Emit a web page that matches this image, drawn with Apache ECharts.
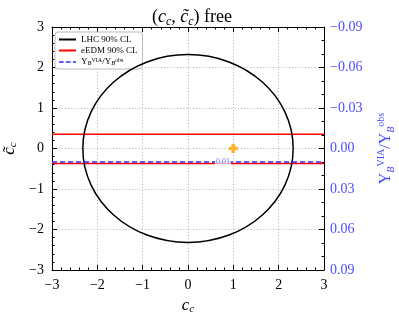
<!DOCTYPE html>
<html>
<head>
<meta charset="utf-8">
<script src="https://cdn.jsdelivr.net/npm/echarts@6/dist/echarts.min.js"></script>
<style>html,body{margin:0;padding:0;background:#fff}#c{width:399px;height:317px}</style>
</head>
<body>
<div id="c"></div>
<script>
// ---- data ----
var xTicks = [-3, -2, -1, 0, 1, 2, 3];
var yTicks = [-3, -2, -1, 0, 1, 2, 3];
var rightTicks = [-0.09, -0.06, -0.03, 0.00, 0.03, 0.06, 0.09];
// LHC 90% CL contour: [centre c, centre c~, radius c, radius c~]
var lhcContour = [[0, 0, 2.32, 2.32]];
// eEDM 90% CL bounds on c~
var eedmBounds = [0.35, -0.37];
// Y_B ratio contour level (right axis) and its label position
var ybLevel = 0.01;
var ybLabelX = 0.77;
// best-fit / SM point
var smPoint = [[1, 0]];

var FONT = 'Liberation Serif';
var BLUE = '#2b2bff';
var LBLUE = '#4d4dff';
function fmtMinus(v, d) {
  var s = (Math.abs(v) < 1e-9 ? 0 : v).toFixed(d);
  return s.replace('-', '\u2212');
}

var chart = echarts.init(document.getElementById('c'), null, {renderer: 'canvas'});

var axisCommon = {
  min: xTicks[0], max: xTicks[xTicks.length - 1], interval: 1,
  axisLine: {show: true, onZero: false, lineStyle: {color: '#000', width: 1}},
  axisTick: {show: true, inside: true, length: 5, lineStyle: {color: '#000'}},
  minorTick: {show: true, splitNumber: 5, length: 2.5, lineStyle: {color: '#000'}},
  axisLabel: {fontFamily: FONT, fontSize: 14, color: '#000', formatter: function (v) { return fmtMinus(v, 0); }},
  splitLine: {show: true, lineStyle: {color: '#aaa', width: 0.8, type: [1.2, 2]}}
};

var eedmLines = eedmBounds.map(function (b) { return [[-3, b], [3, b]]; });

var SOLID = 'rect';
var DASHED = 'path://M0,0H6V2H0Z M9,0H15V2H9Z M18,0H22V2H18Z';

var option = {
  animation: false,
  backgroundColor: '#fff',
  title: {
    text: '{n|(}{i|c}{s|c}{n|, }{i|c\u0303}{s|c}{n|) free}',
    left: 187, top: 1, textAlign: 'center',
    textStyle: {
      fontWeight: 'normal',
      rich: {
        n: {fontFamily: FONT, fontSize: 18, fontWeight: 'normal', lineHeight: 22, color: '#000', verticalAlign: 'middle'},
        i: {fontFamily: FONT, fontSize: 18, fontWeight: 'normal', fontStyle: 'italic', lineHeight: 22, color: '#000', verticalAlign: 'middle'},
        s: {fontFamily: FONT, fontSize: 12, fontWeight: 'normal', fontStyle: 'italic', lineHeight: 12, color: '#000', verticalAlign: 'bottom'}
      }
    }
  },
  grid: {left: 52, right: 75, top: 27, bottom: 47, containLabel: false, outerBoundsMode: 'none'},
  legend: {
    orient: 'vertical', left: 55, top: 32,
    data: [{name: 'LHC 90% CL', icon: SOLID}, {name: 'eEDM 90% CL', icon: SOLID}, {name: 'YB', icon: DASHED}],
    itemWidth: 17, itemHeight: 2, itemGap: 2,
    padding: [3, 5, 2, 4],
    backgroundColor: '#fff', borderColor: '#bbb', borderWidth: 1, borderRadius: 3,
    formatter: function (name) {
      if (name === 'YB') return '{t|Y}{s|B}{p|VIA}{t|/Y}{s|B}{p|obs}';
      return '{t|' + name + '}';
    },
    textStyle: {
      rich: {
        t: {fontFamily: FONT, fontSize: 9, lineHeight: 10, color: '#000', verticalAlign: 'middle'},
        s: {fontFamily: FONT, fontSize: 6.5, fontStyle: 'italic', lineHeight: 6, color: '#000', verticalAlign: 'bottom'},
        p: {fontFamily: FONT, fontSize: 6, lineHeight: 6, color: '#000', verticalAlign: 'top'}
      }
    }
  },
  xAxis: [
    Object.assign({}, axisCommon, {
      type: 'value', position: 'bottom',
      name: '{i|c}{s|c}', nameLocation: 'middle', nameGap: 24,
      nameTextStyle: {rich: {
        i: {fontFamily: FONT, fontSize: 17, fontStyle: 'italic', lineHeight: 18, color: '#000', verticalAlign: 'middle'},
        s: {fontFamily: FONT, fontSize: 11, fontStyle: 'italic', lineHeight: 10, color: '#000', verticalAlign: 'bottom'}
      }}
    }),
    Object.assign({}, axisCommon, {
      type: 'value', position: 'top',
      axisLabel: {show: false}, splitLine: {show: false}
    })
  ],
  yAxis: [
    Object.assign({}, axisCommon, {
      type: 'value', position: 'left', min: yTicks[0], max: yTicks[yTicks.length - 1],
      name: '{i|c\u0303}{s|c}', nameLocation: 'middle', nameGap: 26,
      nameTextStyle: {rich: {
        i: {fontFamily: FONT, fontSize: 17, fontStyle: 'italic', lineHeight: 18, color: '#000', verticalAlign: 'middle'},
        s: {fontFamily: FONT, fontSize: 11, fontStyle: 'italic', lineHeight: 10, color: '#000', verticalAlign: 'bottom'}
      }}
    }),
    {
      type: 'value', position: 'right', inverse: true,
      min: rightTicks[0], max: rightTicks[rightTicks.length - 1], interval: 0.03,
      axisLine: {show: true, onZero: false, lineStyle: {color: '#000', width: 1}},
      axisTick: {show: true, inside: true, length: 5, lineStyle: {color: '#000'}},
      minorTick: {show: true, splitNumber: 3, length: 2.5, lineStyle: {color: '#000'}},
      splitLine: {show: false},
      axisLabel: {fontFamily: FONT, fontSize: 14, color: LBLUE, margin: 6,
        formatter: function (v) { return fmtMinus(v, 2); }},
      name: '{t|Y}{s|B}{p|VIA}{t|/Y}{s|B}{p|obs}', nameLocation: 'middle', nameGap: 52,
      nameTextStyle: {rich: {
        t: {fontFamily: FONT, fontSize: 16, lineHeight: 20, color: LBLUE, verticalAlign: 'middle'},
        s: {fontFamily: FONT, fontSize: 10, fontStyle: 'italic', lineHeight: 10, color: LBLUE, verticalAlign: 'bottom'},
        p: {fontFamily: FONT, fontSize: 10, lineHeight: 10, color: LBLUE, verticalAlign: 'top'}
      }}
    }
  ],
  series: [
    {
      name: 'LHC 90% CL', type: 'line', data: [], symbol: 'none',
      itemStyle: {color: '#000'}, lineStyle: {color: '#000', width: 1.5}
    },
    {
      name: 'LHC contour', type: 'custom', xAxisIndex: 0, yAxisIndex: 0,
      data: lhcContour, z: 4, silent: true,
      renderItem: function (params, api) {
        var c = api.coord([api.value(0), api.value(1)]);
        var s = api.size([api.value(2), api.value(3)]);
        return {type: 'ellipse', shape: {cx: c[0], cy: c[1], rx: s[0], ry: s[1]},
          style: {fill: 'none', stroke: '#000', lineWidth: 1.5}};
      }
    },
    {
      name: 'eEDM 90% CL', type: 'line', xAxisIndex: 0, yAxisIndex: 0, symbol: 'none',
      itemStyle: {color: '#ff0000'}, lineStyle: {color: '#ff0000', width: 1.5},
      data: eedmLines[0], z: 3
    },
    {
      name: 'eEDM 90% CL', type: 'line', xAxisIndex: 0, yAxisIndex: 0, symbol: 'none',
      itemStyle: {color: '#ff0000'}, lineStyle: {color: '#ff0000', width: 1.5},
      data: eedmLines[1], z: 3
    },
    {
      name: 'YB', type: 'line', xAxisIndex: 0, yAxisIndex: 1, symbol: 'none',
      itemStyle: {color: BLUE}, lineStyle: {color: BLUE, width: 1.5, type: [5, 3]},
      data: [[-3, ybLevel], [3, ybLevel]], z: 5
    },
    {
      name: 'YB label', type: 'scatter', xAxisIndex: 0, yAxisIndex: 1, symbolSize: 0,
      data: [[ybLabelX, ybLevel]], z: 6, silent: true,
      label: {show: true, position: 'inside', formatter: ybLevel.toFixed(2),
        fontFamily: FONT, fontSize: 8, color: LBLUE, backgroundColor: '#fff', padding: [0, 1]}
    },
    {
      name: 'SM', type: 'scatter', xAxisIndex: 0, yAxisIndex: 0,
      symbol: 'path://M3,0H7V3H10V7H7V10H3V7H0V3H3Z', symbolSize: 9,
      itemStyle: {color: '#ffa500'}, data: smPoint, z: 7
    }
  ]
};
chart.setOption(option);
</script>
</body>
</html>
